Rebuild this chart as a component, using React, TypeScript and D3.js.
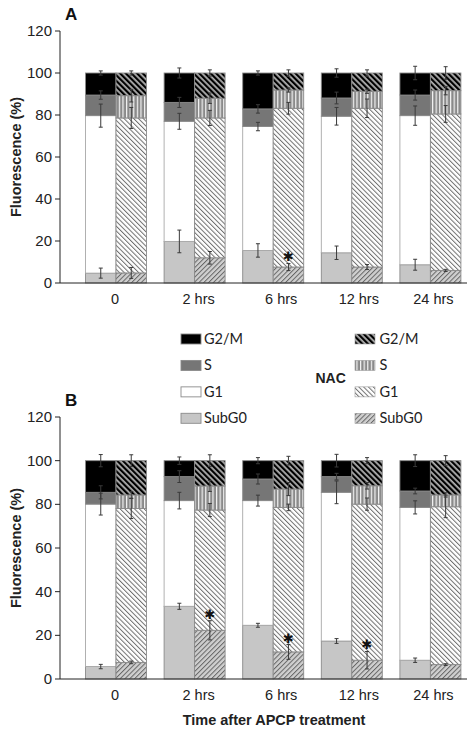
import React from "react";
import * as d3 from "d3";

// ---------- data ----------
const categories = ["0", "2 hrs", "6 hrs", "12 hrs", "24 hrs"];
const phases = ["SubG0", "G1", "S", "G2/M"];
const yTicks = [0, 20, 40, 60, 80, 100, 120];

// Panel A – APCP alone
const aCtrlSubG0 = [4.7, 19.8, 15.5, 14.4, 8.7];
const aCtrlG1 = [75.0, 57.2, 59.0, 65.0, 71.0];
const aCtrlS = [9.8, 9.0, 8.4, 8.7, 9.8];
const aCtrlG2M = [10.5, 14.0, 17.1, 11.9, 10.5];
const aCtrlErrSubG0 = [2.4, 5.4, 3.2, 3.2, 2.6];
const aCtrlErrG1 = [5.5, 3.8, 2.0, 4.2, 4.6];
const aCtrlErrS = [2.0, 2.4, 2.0, 2.8, 2.4];
const aCtrlErrG2M = [1.0, 2.4, 1.0, 2.0, 3.2];
// Panel A – NAC
const aNacSubG0 = [4.8, 12.0, 7.6, 7.6, 6.0];
const aNacG1 = [73.8, 66.6, 75.6, 75.6, 74.5];
const aNacS = [10.6, 9.4, 8.7, 8.1, 11.1];
const aNacG2M = [10.8, 12.0, 8.1, 8.7, 8.4];
const aNacErrSubG0 = [2.6, 3.0, 1.7, 1.2, 0.5];
const aNacErrG1 = [5.0, 3.6, 2.8, 4.4, 4.0];
const aNacErrS = [3.0, 2.5, 1.0, 1.0, 2.0];
const aNacErrG2M = [1.0, 1.5, 1.5, 1.5, 3.0];
const aStars = [false, false, true, false, false];

// Panel B – APCP alone
const bCtrlSubG0 = [5.7, 33.3, 24.6, 17.4, 8.6];
const bCtrlG1 = [74.4, 48.4, 57.1, 68.1, 70.0];
const bCtrlS = [5.4, 11.0, 9.9, 7.2, 7.5];
const bCtrlG2M = [14.5, 7.3, 8.4, 7.3, 13.9];
const bCtrlErrSubG0 = [1.0, 1.4, 0.9, 1.1, 1.0];
const bCtrlErrG1 = [5.0, 3.8, 2.5, 5.2, 3.0];
const bCtrlErrS = [3.0, 2.7, 2.3, 1.5, 1.3];
const bCtrlErrG2M = [2.8, 1.7, 1.4, 2.9, 2.7];
// Panel B – NAC
const bNacSubG0 = [7.6, 22.3, 12.4, 8.6, 6.6];
const bNacG1 = [70.5, 55.1, 66.2, 71.5, 72.3];
const bNacS = [6.2, 11.0, 8.4, 8.4, 5.4];
const bNacG2M = [15.7, 11.6, 13.0, 11.5, 15.7];
const bNacErrSubG0 = [0.6, 4.4, 3.4, 4.0, 0.4];
const bNacErrG1 = [4.6, 3.0, 1.5, 2.8, 5.0];
const bNacErrS = [1.5, 2.5, 3.0, 1.5, 1.0];
const bNacErrG2M = [2.7, 2.7, 2.0, 1.4, 2.3];
const bStars = [false, true, true, true, false];

// ---------- styling / layout ----------
const W = 472;
const H = 731;
const AXIS_X = 60;
const AXIS_END = 467;
const labelNudge = [-1, 4, 8, 7, 3];
const ctrlFill: Record<string, string> = {
  SubG0: "#c6c6c6",
  G1: "#ffffff",
  S: "#767676",
  "G2/M": "#000000",
};
const nacFill: Record<string, string> = {
  SubG0: "url(#patSub)",
  G1: "url(#patG1)",
  S: "url(#patS)",
  "G2/M": "url(#patG2)",
};
const ARIAL = "'Liberation Sans', Arial, sans-serif";
const CALIBRI = "Lato, 'Open Sans', sans-serif";

const x = d3
  .scaleBand<string>()
  .domain(categories)
  .range([76.7, 469.7])
  .paddingInner(0.224)
  .paddingOuter(0.112);
const sub = d3
  .scaleBand<string>()
  .domain(["ctrl", "nac"])
  .range([0, x.bandwidth()]);

type Group = { vals: number[][]; errs: number[][] };

function makeRows(vals: number[][]) {
  return categories.map((c, i) => {
    const r: any = { cat: c };
    phases.forEach((p, k) => (r[p] = vals[k][i]));
    return r;
  });
}

function Bars({ g, kind, y }: { g: Group; kind: "ctrl" | "nac"; y: d3.ScaleLinear<number, number> }) {
  const stack = d3.stack<any>().keys(phases)(makeRows(g.vals));
  const fills = kind === "ctrl" ? ctrlFill : nacFill;
  const bw = sub.bandwidth();
  return (
    <g>
      {stack.map((layer, k) =>
        layer.map((d, i) => {
          const bx = (x(categories[i]) as number) + (sub(kind) as number);
          return (
            <rect
              key={`${k}-${i}`}
              x={bx}
              y={y(d[1])}
              width={bw}
              height={y(d[0]) - y(d[1])}
              fill={fills[phases[k]]}
              stroke={k === 1 && kind === "ctrl" ? "#a8a8a8" : "#8a8a8a"}
              strokeWidth={0.9}
            />
          );
        })
      )}
      {stack.map((layer, k) =>
        layer.map((d, i) => {
          const cx = (x(categories[i]) as number) + (sub(kind) as number) + bw / 2;
          const e = g.errs[k][i];
          const top = d[1];
          return (
            <g key={`e${k}-${i}`} stroke="#3a3a3a" strokeWidth={1}>
              <line x1={cx} x2={cx} y1={y(top - e)} y2={y(top + e)} />
              <line x1={cx - 2} x2={cx + 2} y1={y(top - e)} y2={y(top - e)} />
              <line x1={cx - 2} x2={cx + 2} y1={y(top + e)} y2={y(top + e)} />
            </g>
          );
        })
      )}
    </g>
  );
}

function Panel({
  label,
  y0,
  y120,
  ctrl,
  nac,
  stars,
  showXTitle,
}: {
  label: string;
  y0: number;
  y120: number;
  ctrl: Group;
  nac: Group;
  stars: boolean[];
  showXTitle: boolean;
}) {
  const y = d3.scaleLinear().domain([0, 120]).range([y0, y120]);
  const bw = sub.bandwidth();
  return (
    <g>
      <text x={65} y={y120 - 11} fontFamily={ARIAL} fontWeight="bold" fontSize={17} fill="#111">
        {label}
      </text>
      <Bars g={ctrl} kind="ctrl" y={y} />
      <Bars g={nac} kind="nac" y={y} />
      {stars.map((s, i) => {
        if (!s) return null;
        const cx = (x(categories[i]) as number) + (sub("nac") as number) + bw / 2;
        const top = nac.vals[0][i] + nac.errs[0][i];
        return (
          <text
            key={i}
            x={cx}
            y={y(top) - 2}
            textAnchor="middle"
            fontFamily="'DejaVu Sans', sans-serif"
            fontSize={13}
            fill="#111"
          >
            ✱
          </text>
        );
      })}
      {/* y axis */}
      <line x1={AXIS_X} x2={AXIS_X} y1={y(0)} y2={y(120)} stroke="#222" strokeWidth={1} />
      {yTicks.map((t) => (
        <g key={t}>
          <line x1={AXIS_X - 5} x2={AXIS_X} y1={y(t)} y2={y(t)} stroke="#222" strokeWidth={1} />
          <text
            x={AXIS_X - 8}
            y={y(t) + 5}
            textAnchor="end"
            fontFamily={ARIAL}
            fontSize={15}
            fill="#222"
          >
            {t}
          </text>
        </g>
      ))}
      {/* x axis */}
      <line x1={AXIS_X} x2={AXIS_END} y1={y(0)} y2={y(0)} stroke="#222" strokeWidth={1} />
      {categories.map((c, i) => (
        <text
          key={c}
          x={(x(c) as number) + x.bandwidth() / 2 + labelNudge[i]}
          y={y(0) + 21}
          textAnchor="middle"
          fontFamily={ARIAL}
          fontSize={14.5}
          fill="#222"
        >
          {c}
        </text>
      ))}
      <text
        transform={`translate(21,${(y0 + y120) / 2}) rotate(-90)`}
        textAnchor="middle"
        fontFamily={ARIAL}
        fontWeight="bold"
        fontSize={14.5}
        fill="#222"
      >
        Fluorescence (%)
      </text>
      {showXTitle && (
        <text
          x={274}
          y={y0 + 46}
          textAnchor="middle"
          fontFamily={ARIAL}
          fontWeight="bold"
          fontSize={14.5}
          fill="#222"
        >
          Time after APCP treatment
        </text>
      )}
    </g>
  );
}

function Legend() {
  const order = ["G2/M", "S", "G1", "SubG0"];
  const rowY = d3.scalePoint<string>().domain(order).range([339, 418.3]);
  return (
    <g>
      {order.map((p) => (
        <g key={p}>
          <rect
            x={181}
            y={(rowY(p) as number) - 5}
            width={20}
            height={10}
            fill={ctrlFill[p]}
            stroke="#8a8a8a"
            strokeWidth={0.9}
          />
          <text x={204} y={(rowY(p) as number) + 5} fontFamily={CALIBRI} fontSize={14.5} fill="#222">
            {p}
          </text>
          <rect
            x={355}
            y={(rowY(p) as number) - 5}
            width={20}
            height={10}
            fill={nacFill[p]}
            stroke="#9a9a9a"
            strokeWidth={0.6}
          />
          <text x={379.5} y={(rowY(p) as number) + 5} fontFamily={CALIBRI} fontSize={14.5} fill="#222">
            {p}
          </text>
        </g>
      ))}
      <text x={315.5} y={383} fontFamily={ARIAL} fontWeight="bold" fontSize={14} fill="#222">
        NAC
      </text>
    </g>
  );
}

export default function App() {
  const aCtrl: Group = {
    vals: [aCtrlSubG0, aCtrlG1, aCtrlS, aCtrlG2M],
    errs: [aCtrlErrSubG0, aCtrlErrG1, aCtrlErrS, aCtrlErrG2M],
  };
  const aNac: Group = {
    vals: [aNacSubG0, aNacG1, aNacS, aNacG2M],
    errs: [aNacErrSubG0, aNacErrG1, aNacErrS, aNacErrG2M],
  };
  const bCtrl: Group = {
    vals: [bCtrlSubG0, bCtrlG1, bCtrlS, bCtrlG2M],
    errs: [bCtrlErrSubG0, bCtrlErrG1, bCtrlErrS, bCtrlErrG2M],
  };
  const bNac: Group = {
    vals: [bNacSubG0, bNacG1, bNacS, bNacG2M],
    errs: [bNacErrSubG0, bNacErrG1, bNacErrS, bNacErrG2M],
  };
  return (
    <svg
      width={W}
      height={H}
      style={{ position: "absolute", left: 0, top: 0, background: "#fff" }}
    >
      <defs>
        <pattern id="patG2" width={4} height={4} patternUnits="userSpaceOnUse" patternTransform="rotate(-45)">
          <rect width={4} height={4} fill="#b0b0b0" />
          <rect width={2.2} height={4} fill="#000" />
        </pattern>
        <pattern id="patS" width={3.6} height={4} patternUnits="userSpaceOnUse">
          <rect width={3.6} height={4} fill="#8a8a8a" />
          <rect x={0} width={1.2} height={4} fill="#f4f4f4" />
        </pattern>
        <pattern id="patG1" width={3.4} height={4} patternUnits="userSpaceOnUse" patternTransform="rotate(-45)">
          <rect width={3.4} height={4} fill="#fff" />
          <rect width={1} height={4} fill="#6f6f6f" />
        </pattern>
        <pattern id="patSub" width={3.4} height={4} patternUnits="userSpaceOnUse" patternTransform="rotate(45)">
          <rect width={3.4} height={4} fill="#cfcfcf" />
          <rect width={1} height={4} fill="#666" />
        </pattern>
      </defs>
      <rect width={W} height={H} fill="#fff" />
      <Panel label="A" y0={283} y120={31} ctrl={aCtrl} nac={aNac} stars={aStars} showXTitle={false} />
      <Panel label="B" y0={679} y120={417} ctrl={bCtrl} nac={bNac} stars={bStars} showXTitle={true} />
      <Legend />
    </svg>
  );
}
